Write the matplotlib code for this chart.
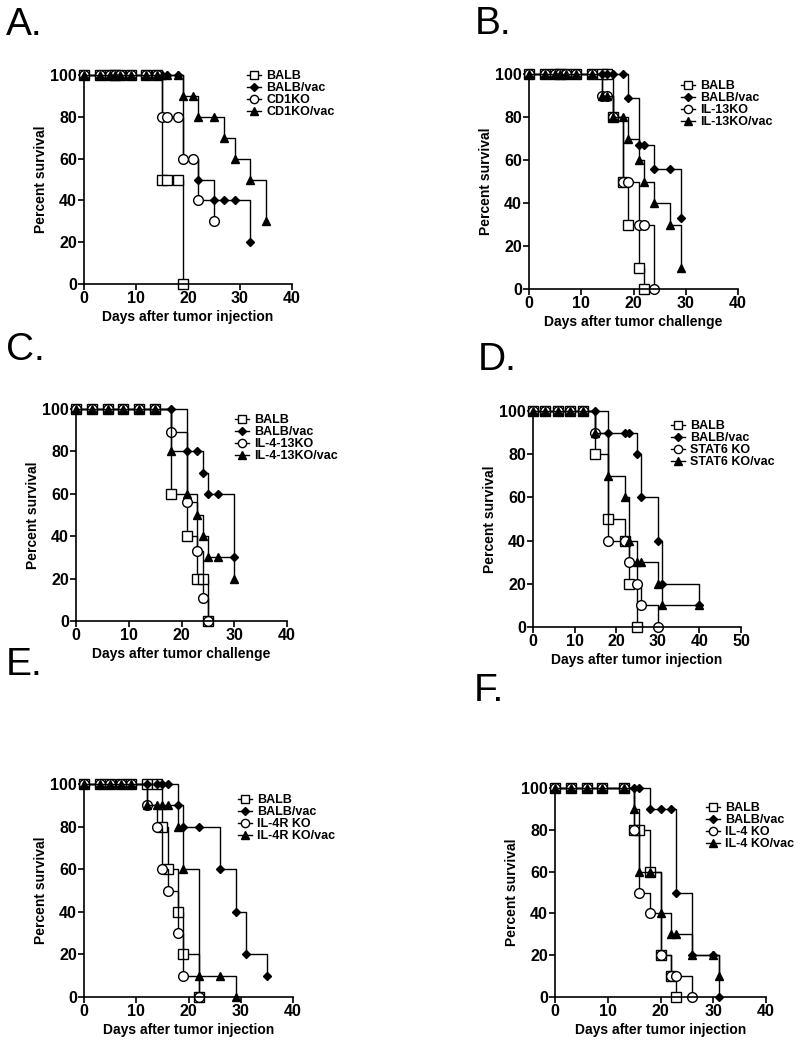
import matplotlib
matplotlib.use("Agg")
import matplotlib.pyplot as plt

plt.rcParams["font.family"] = ["Liberation Sans", "DejaVu Sans"]

# ---------------------------------------------------------------------------
# Data (day, percent survival)
# ---------------------------------------------------------------------------
# A. CD1KO
A_BALB_D = [0, 3, 5, 6, 7, 9, 12, 14, 15, 16, 18, 19]
A_BALB_S = [100, 100, 100, 100, 100, 100, 100, 100, 50, 50, 50, 0]
A_BALBVAC_D = [0, 3, 5, 6, 7, 9, 12, 14, 15, 16, 18, 19, 22, 25, 27, 29, 32]
A_BALBVAC_S = [100, 100, 100, 100, 100, 100, 100, 100, 100, 100, 100, 60, 50, 40, 40, 40, 20]
A_KO_D = [0, 3, 5, 6, 7, 9, 12, 14, 15, 16, 18, 19, 21, 22, 25]
A_KO_S = [100, 100, 100, 100, 100, 100, 100, 100, 80, 80, 80, 60, 60, 40, 30]
A_KOVAC_D = [0, 3, 5, 6, 7, 9, 12, 14, 15, 16, 18, 19, 21, 22, 25, 27, 29, 32, 35]
A_KOVAC_S = [100, 100, 100, 100, 100, 100, 100, 100, 100, 100, 100, 90, 90, 80, 80, 70, 60, 50, 30]
A_LABELS = ["BALB", "BALB/vac", "CD1KO", "CD1KO/vac"]

# B. IL-13KO
B_BALB_D = [0, 3, 5, 6, 7, 9, 12, 14, 15, 16, 18, 19, 21, 22]
B_BALB_S = [100, 100, 100, 100, 100, 100, 100, 100, 100, 80, 50, 30, 10, 0]
B_BALBVAC_D = [0, 3, 5, 6, 7, 9, 12, 14, 15, 16, 18, 19, 21, 22, 24, 27, 29]
B_BALBVAC_S = [100, 100, 100, 100, 100, 100, 100, 100, 100, 100, 100, 89, 67, 67, 56, 56, 33]
B_KO_D = [0, 3, 5, 6, 7, 9, 12, 14, 15, 16, 18, 19, 21, 22, 24]
B_KO_S = [100, 100, 100, 100, 100, 100, 100, 90, 90, 80, 50, 50, 30, 30, 0]
B_KOVAC_D = [0, 3, 5, 6, 7, 9, 12, 14, 15, 16, 18, 19, 21, 22, 24, 27, 29]
B_KOVAC_S = [100, 100, 100, 100, 100, 100, 100, 90, 90, 80, 80, 70, 60, 50, 40, 30, 10]
B_LABELS = ["BALB", "BALB/vac", "IL-13KO", "IL-13KO/vac"]

# C. IL-4-13KO
C_BALB_D = [0, 3, 6, 9, 12, 15, 18, 21, 23, 24, 25]
C_BALB_S = [100, 100, 100, 100, 100, 100, 60, 40, 20, 20, 0]
C_BALBVAC_D = [0, 3, 6, 9, 12, 15, 18, 21, 23, 24, 25, 27, 30]
C_BALBVAC_S = [100, 100, 100, 100, 100, 100, 100, 80, 80, 70, 60, 60, 30]
C_KO_D = [0, 3, 6, 9, 12, 15, 18, 21, 23, 24, 25]
C_KO_S = [100, 100, 100, 100, 100, 100, 89, 56, 33, 11, 0]
C_KOVAC_D = [0, 3, 6, 9, 12, 15, 18, 21, 23, 24, 25, 27, 30]
C_KOVAC_S = [100, 100, 100, 100, 100, 100, 80, 60, 50, 40, 30, 30, 20]
C_LABELS = ["BALB", "BALB/vac", "IL-4-13KO", "IL-4-13KO/vac"]

# D. STAT6 KO
D_BALB_D = [0, 3, 6, 9, 12, 15, 18, 22, 23, 25]
D_BALB_S = [100, 100, 100, 100, 100, 80, 50, 40, 20, 0]
D_BALBVAC_D = [0, 3, 6, 9, 12, 15, 18, 22, 23, 25, 26, 30, 31, 40]
D_BALBVAC_S = [100, 100, 100, 100, 100, 100, 90, 90, 90, 80, 60, 40, 20, 10]
D_KO_D = [0, 3, 6, 9, 12, 15, 18, 22, 23, 25, 26, 30]
D_KO_S = [100, 100, 100, 100, 100, 90, 40, 40, 30, 20, 10, 0]
D_KOVAC_D = [0, 3, 6, 9, 12, 15, 18, 22, 23, 25, 26, 30, 31, 40]
D_KOVAC_S = [100, 100, 100, 100, 100, 90, 70, 60, 40, 30, 30, 20, 10, 10]
D_LABELS = ["BALB", "BALB/vac", "STAT6 KO", "STAT6 KO/vac"]

# E. IL-4R KO
E_BALB_D = [0, 3, 5, 7, 9, 12, 14, 15, 16, 18, 19, 22]
E_BALB_S = [100, 100, 100, 100, 100, 100, 100, 80, 60, 40, 20, 0]
E_BALBVAC_D = [0, 3, 5, 7, 9, 12, 14, 15, 16, 18, 19, 22, 26, 29, 31, 35]
E_BALBVAC_S = [100, 100, 100, 100, 100, 100, 100, 100, 100, 90, 80, 80, 60, 40, 20, 10]
E_KO_D = [0, 3, 5, 7, 9, 12, 14, 15, 16, 18, 19, 22]
E_KO_S = [100, 100, 100, 100, 100, 90, 80, 60, 50, 30, 10, 0]
E_KOVAC_D = [0, 3, 5, 7, 9, 12, 14, 15, 16, 18, 19, 22, 26, 29]
E_KOVAC_S = [100, 100, 100, 100, 100, 90, 90, 90, 90, 80, 60, 10, 10, 0]
E_LABELS = ["BALB", "BALB/vac", "IL-4R KO", "IL-4R KO/vac"]

# F. IL-4 KO
F_BALB_D = [0, 3, 6, 9, 13, 15, 16, 18, 20, 22, 23]
F_BALB_S = [100, 100, 100, 100, 100, 80, 80, 60, 20, 10, 0]
F_BALBVAC_D = [0, 3, 6, 9, 13, 15, 16, 18, 20, 22, 23, 26, 30, 31]
F_BALBVAC_S = [100, 100, 100, 100, 100, 100, 100, 90, 90, 90, 50, 20, 20, 0]
F_KO_D = [0, 3, 6, 9, 13, 15, 16, 18, 20, 22, 23, 26]
F_KO_S = [100, 100, 100, 100, 100, 80, 50, 40, 20, 10, 10, 0]
F_KOVAC_D = [0, 3, 6, 9, 13, 15, 16, 18, 20, 22, 23, 26, 30, 31]
F_KOVAC_S = [100, 100, 100, 100, 100, 90, 60, 60, 40, 30, 30, 20, 20, 10]
F_LABELS = ["BALB", "BALB/vac", "IL-4 KO", "IL-4 KO/vac"]

# marker style per group: (marker, face, size)
MARKERS = [("s", "white", 6.8), ("D", "black", 4.5), ("o", "white", 7.0), ("^", "black", 6.0)]

W, H = 800, 1044


def box(l, t, r, b):
    return [l / W, 1 - b / H, (r - l) / W, (b - t) / H]


fig = plt.figure(figsize=(W / 100, H / 100), dpi=100)

panels = [
    # letter, letter pos, axes box, series, labels, xmax, xlabel, legend anchor
    ("A.", (6, 7), box(84, 75, 292, 284),
     [(A_BALB_D, A_BALB_S), (A_BALBVAC_D, A_BALBVAC_S), (A_KO_D, A_KO_S), (A_KOVAC_D, A_KOVAC_S)],
     A_LABELS, 40, "Days after tumor injection", (247, 70)),
    ("B.", (475, 6), box(529, 74, 738, 289),
     [(B_BALB_D, B_BALB_S), (B_BALBVAC_D, B_BALBVAC_S), (B_KO_D, B_KO_S), (B_KOVAC_D, B_KOVAC_S)],
     B_LABELS, 40, "Days after tumor challenge", (681, 80)),
    ("C.", (6, 332), box(76, 409, 287, 621),
     [(C_BALB_D, C_BALB_S), (C_BALBVAC_D, C_BALBVAC_S), (C_KO_D, C_KO_S), (C_KOVAC_D, C_KOVAC_S)],
     C_LABELS, 40, "Days after tumor challenge", (235, 414)),
    ("D.", (478, 342), box(533, 411, 741, 627),
     [(D_BALB_D, D_BALB_S), (D_BALBVAC_D, D_BALBVAC_S), (D_KO_D, D_KO_S), (D_KOVAC_D, D_KOVAC_S)],
     D_LABELS, 50, "Days after tumor injection", (671, 420)),
    ("E.", (6, 647), box(84, 784, 293, 997),
     [(E_BALB_D, E_BALB_S), (E_BALBVAC_D, E_BALBVAC_S), (E_KO_D, E_KO_S), (E_KOVAC_D, E_KOVAC_S)],
     E_LABELS, 40, "Days after tumor injection", (238, 794)),
    ("F.", (474, 673), box(555, 788, 766, 997),
     [(F_BALB_D, F_BALB_S), (F_BALBVAC_D, F_BALBVAC_S), (F_KO_D, F_KO_S), (F_KOVAC_D, F_KOVAC_S)],
     F_LABELS, 40, "Days after tumor injection", (706, 802)),
]

for letter, lpos, rect, series, labels, xmax, xlabel, lanchor in panels:
    ax = fig.add_axes(rect)
    for (d, s), (m, fc, ms), lab in zip(series, MARKERS, labels):
        ax.plot(d, s, drawstyle="steps-post", color="black", linewidth=1.0,
                marker=m, markerfacecolor=fc, markeredgecolor="black",
                markersize=ms, markeredgewidth=1.0, clip_on=False, label=lab)
    ax.set_xlim(0, xmax)
    ax.set_ylim(0, 100)
    ax.set_xticks(range(0, xmax + 1, 10))
    ax.set_yticks(range(0, 101, 20))
    for sp in ("top", "right"):
        ax.spines[sp].set_visible(False)
    for sp in ("left", "bottom"):
        ax.spines[sp].set_linewidth(1.2)
    ax.tick_params(direction="out", length=4, width=1.2, labelsize=11.5, pad=1)
    for lbl in ax.get_xticklabels() + ax.get_yticklabels():
        lbl.set_fontweight("bold")
    ax.set_xlabel(xlabel, fontsize=10, fontweight="bold", labelpad=3)
    ax.set_ylabel("Percent survival", fontsize=10, fontweight="bold", labelpad=2)

    leg = ax.legend(loc="upper left", bbox_to_anchor=(lanchor[0] / W, 1 - lanchor[1] / H),
                    bbox_transform=fig.transFigure, frameon=False, borderpad=0,
                    borderaxespad=0, handlelength=1.1, handletextpad=0.45,
                    labelspacing=0.0, prop={"size": 9, "weight": "bold"})
    for h, (m, fc, ms) in zip(leg.legend_handles, MARKERS):
        h.set_markersize(ms * 0.85)

    fig.text(lpos[0] / W, 1 - lpos[1] / H, letter, fontsize=28, ha="left", va="top")

fig.savefig("out.png", dpi=100)
